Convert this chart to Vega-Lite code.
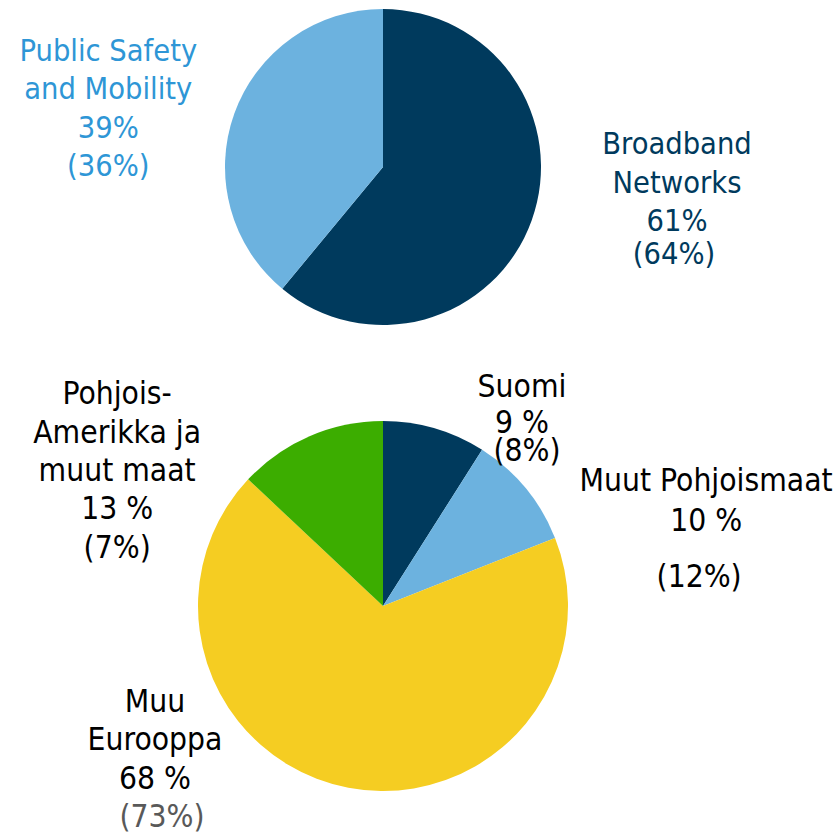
{
  "$schema": "https://vega.github.io/schema/vega-lite/v6.json",
  "padding": 0,
  "spacing": 0,
  "background": "white",
  "config": {"view": {"stroke": null}},
  "resolve": {"scale": {"color": "independent", "theta": "independent"}},
  "vconcat": [
    {
      "width": 766,
      "height": 334,
      "data": {"values": [
        {"k": "Broadband Networks", "v": 61, "o": 1, "lab": ["Broadband", "Networks", "61%"], "prev": "(64%)"},
        {"k": "Public Safety and Mobility", "v": 39, "o": 2, "lab": ["Public Safety", "and Mobility", "39%", "(36%)"], "prev": ""}
      ]},
      "transform": [
        {"stack": "v", "groupby": [], "sort": [{"field": "o"}], "as": ["s0", "s1"]}
      ],
      "layer": [
        {
          "mark": {"type": "arc", "outerRadius": 158},
          "encoding": {
            "theta": {"field": "s0", "type": "quantitative", "scale": {"domain": [0, 100]}},
            "theta2": {"field": "s1"},
            "color": {"field": "k", "type": "nominal", "legend": null,
              "scale": {"domain": ["Broadband Networks", "Public Safety and Mobility"], "range": ["#003a5d", "#6cb2df"]}}
          }
        },
        {
          "transform": [{"filter": "datum.k === 'Broadband Networks'"}],
          "mark": {"type": "text", "radius": 158, "dx": 294, "dy": 136, "font": "DejaVu Sans Condensed, DejaVu Sans", "fontSize": 30.5, "lineHeight": 38.5, "align": "center", "baseline": "middle", "color": "#003a5d"},
          "encoding": {
            "theta": {"field": "s0", "type": "quantitative"},
            "text": {"field": "lab"}
          }
        },
        {
          "transform": [{"filter": "datum.k === 'Broadband Networks'"}],
          "mark": {"type": "text", "radius": 158, "dx": 291, "dy": 246, "font": "DejaVu Sans Condensed, DejaVu Sans", "fontSize": 30.5, "align": "center", "baseline": "middle", "color": "#003a5d"},
          "encoding": {
            "theta": {"field": "s0", "type": "quantitative"},
            "text": {"field": "prev"}
          }
        },
        {
          "transform": [{"filter": "datum.k === 'Public Safety and Mobility'"}],
          "mark": {"type": "text", "radius": 158, "dx": -174, "dy": -237, "font": "DejaVu Sans Condensed, DejaVu Sans", "fontSize": 30.5, "lineHeight": 38.5, "align": "center", "baseline": "middle", "color": "#2e96d6"},
          "encoding": {
            "theta": {"field": "s0", "type": "quantitative"},
            "text": {"field": "lab"}
          }
        }
      ]
    },
    {
      "width": 766,
      "height": 544,
      "data": {"values": [
        {"k": "Suomi", "v": 9, "o": 1, "lab": ["Suomi", "9 %"], "prev": "(8%)"},
        {"k": "Muut Pohjoismaat", "v": 10, "o": 2, "lab": ["Muut Pohjoismaat", "10 %"], "prev": "(12%)"},
        {"k": "Muu Eurooppa", "v": 68, "o": 3, "lab": ["Muu", "Eurooppa", "68 %"], "prev": "(73%)"},
        {"k": "Pohjois-Amerikka ja muut maat", "v": 13, "o": 4, "lab": ["Pohjois-", "Amerikka ja", "muut maat", "13 %", "(7%)"], "prev": ""}
      ]},
      "transform": [
        {"stack": "v", "groupby": [], "sort": [{"field": "o"}], "as": ["s0", "s1"]}
      ],
      "layer": [
        {
          "mark": {"type": "arc", "outerRadius": 185},
          "encoding": {
            "theta": {"field": "s0", "type": "quantitative", "scale": {"domain": [0, 100]}},
            "theta2": {"field": "s1"},
            "color": {"field": "k", "type": "nominal", "legend": null,
              "scale": {"domain": ["Suomi", "Muut Pohjoismaat", "Muu Eurooppa", "Pohjois-Amerikka ja muut maat"], "range": ["#003a5d", "#6cb2df", "#f5cd22", "#3cad00"]}}
          }
        },
        {
          "transform": [{"filter": "datum.k === 'Suomi'"}],
          "mark": {"type": "text", "radius": 185, "dx": 139, "dy": -33, "font": "DejaVu Sans Condensed, DejaVu Sans", "fontSize": 31.5, "lineHeight": 36, "align": "center", "baseline": "middle", "color": "black"},
          "encoding": {
            "theta": {"field": "s0", "type": "quantitative"},
            "text": {"field": "lab"}
          }
        },
        {
          "transform": [{"filter": "datum.k === 'Suomi'"}],
          "mark": {"type": "text", "radius": 185, "dx": 144, "dy": 31, "font": "DejaVu Sans Condensed, DejaVu Sans", "fontSize": 31.5, "align": "center", "baseline": "middle", "color": "black"},
          "encoding": {
            "theta": {"field": "s0", "type": "quantitative"},
            "text": {"field": "prev"}
          }
        },
        {
          "transform": [{"filter": "datum.k === 'Muut Pohjoismaat'"}],
          "mark": {"type": "text", "radius": 185, "dx": 224, "dy": 32, "font": "DejaVu Sans Condensed, DejaVu Sans", "fontSize": 31.5, "lineHeight": 40, "align": "center", "baseline": "middle", "color": "black"},
          "encoding": {
            "theta": {"field": "s0", "type": "quantitative"},
            "text": {"field": "lab"}
          }
        },
        {
          "transform": [{"filter": "datum.k === 'Muut Pohjoismaat'"}],
          "mark": {"type": "text", "radius": 185, "dx": 217, "dy": 128, "font": "DejaVu Sans Condensed, DejaVu Sans", "fontSize": 31.5, "align": "center", "baseline": "middle", "color": "black"},
          "encoding": {
            "theta": {"field": "s0", "type": "quantitative"},
            "text": {"field": "prev"}
          }
        },
        {
          "transform": [{"filter": "datum.k === 'Muu Eurooppa'"}],
          "mark": {"type": "text", "radius": 185, "dx": -400, "dy": 165, "font": "DejaVu Sans Condensed, DejaVu Sans", "fontSize": 31.5, "lineHeight": 38.5, "align": "center", "baseline": "middle", "color": "black"},
          "encoding": {
            "theta": {"field": "s0", "type": "quantitative"},
            "text": {"field": "lab"}
          }
        },
        {
          "transform": [{"filter": "datum.k === 'Muu Eurooppa'"}],
          "mark": {"type": "text", "radius": 185, "dx": -393, "dy": 280, "font": "DejaVu Sans Condensed, DejaVu Sans", "fontSize": 31.5, "align": "center", "baseline": "middle", "color": "#595959"},
          "encoding": {
            "theta": {"field": "s0", "type": "quantitative"},
            "text": {"field": "prev"}
          }
        },
        {
          "transform": [{"filter": "datum.k === 'Pohjois-Amerikka ja muut maat'"}],
          "mark": {"type": "text", "radius": 185, "dx": -131, "dy": -84, "font": "DejaVu Sans Condensed, DejaVu Sans", "fontSize": 31.5, "lineHeight": 38.3, "align": "center", "baseline": "middle", "color": "black"},
          "encoding": {
            "theta": {"field": "s0", "type": "quantitative"},
            "text": {"field": "lab"}
          }
        }
      ]
    }
  ]
}
